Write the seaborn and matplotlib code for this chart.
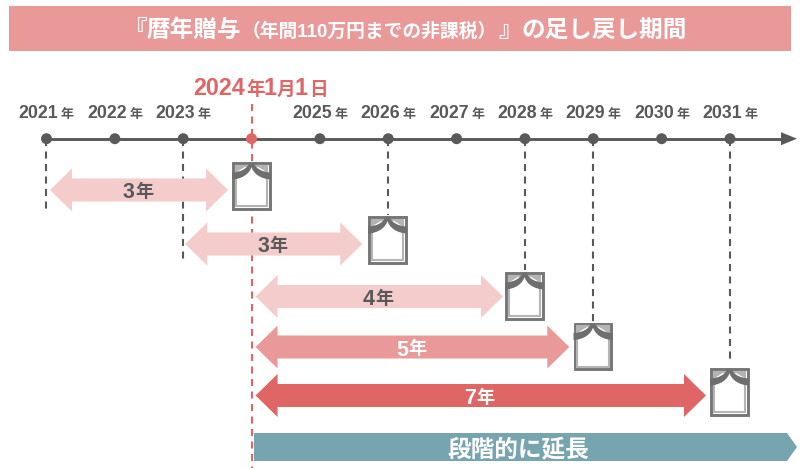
"""Timeline of the gift add-back period for annual gifts (800x468)."""

import matplotlib
matplotlib.use("Agg")
import matplotlib.pyplot as plt
from matplotlib.patches import Polygon, PathPatch, Rectangle
from matplotlib.path import Path
import seaborn as sns

# ── data ───────────────────────────────────────────────────────────────────
years = [2021, 2022, 2023, 2024, 2025, 2026, 2027, 2028, 2029, 2030, 2031]
unlabelled_year = 2024
death_dates = [2024, 2026, 2028, 2029, 2031]
window_starts = [2021, 2023, 2024, 2024, 2024]
window_labels = ["3年", "3年", "4年", "5年", "7年"]
title_pieces = ["『", "暦年贈与", "（年間110万円までの非課税）", "』", "の足し戻し期間"]
date_pieces = ["2024", "年", "1", "月", "1", "日"]
extension_label = "段階的に延長"

# ── style ──────────────────────────────────────────────────────────────────
DARK = "#595959"
RED = "#E06666"
PINK = "#EA9999"
LIGHT = "#F4CCCC"
TEAL = "#76A5AF"
window_colours = [LIGHT, LIGHT, LIGHT, PINK, RED]
window_text = [DARK, DARK, DARK, "white", "white"]

sns.set_theme(style="white")
plt.rcParams["font.family"] = ["Liberation Sans", "Noto Sans CJK JP"]
plt.rcParams["font.weight"] = "bold"

PX_PER_YEAR = 68.35
X0 = 2021 - 46.5 / PX_PER_YEAR


def px(x):
    """Pixel column of the picture -> position on the year axis."""
    return X0 + x / PX_PER_YEAR


fig, ax = plt.subplots(figsize=(8, 4.68), dpi=100)
ax.set_position([0, 0, 1, 1])
ax.set_xlim(px(0), px(800))
ax.set_ylim(468, 0)
ax.axis("off")

AXIS_Y = 138.7

# ── title band ─────────────────────────────────────────────────────────────
ax.add_patch(Rectangle((px(9), 6), 782 / PX_PER_YEAR, 45, color=PINK, lw=0, zorder=1))
title_x = [123.5, 147, 242, 498, 521.5]
title_size = [17, 17, 13.5, 17, 17]
for s, x, size in zip(title_pieces, title_x, title_size):
    ax.text(px(x), 37, s, color="white", fontsize=size, va="baseline", zorder=2)

# ── guide lines ────────────────────────────────────────────────────────────
dash = (0, (3.4, 2.6))
guide_ends = [210, 262, 215, 270, 322, 362]
guide_years = [2021, 2023, 2026, 2028, 2029, 2031]
for year, end in zip(guide_years, guide_ends):
    ax.plot([year, year], [AXIS_Y, end], color=DARK, lw=1.5, ls=dash, zorder=2)
ax.plot([2024, 2024], [104, 468], color=RED, lw=1.5, ls=dash, zorder=2)

# ── timeline ───────────────────────────────────────────────────────────────
sns.lineplot(x=[years[0], px(782)], y=[AXIS_Y, AXIS_Y], color=DARK, lw=2.1,
             estimator=None, sort=False, ax=ax, zorder=3)
ax.add_patch(Polygon([(px(781), AXIS_Y - 6.5), (px(797), AXIS_Y), (px(781), AXIS_Y + 6.5)],
                     color=DARK, lw=0, zorder=3))
dot_colours = [RED if y == unlabelled_year else DARK for y in years]
sns.scatterplot(x=years, y=[AXIS_Y] * len(years), hue=years, palette=dot_colours,
                s=62, linewidth=0, legend=False, ax=ax, zorder=4)

for year in years:
    if year == unlabelled_year:
        continue
    x = 46.5 + (year - 2021) * PX_PER_YEAR
    ax.text(px(x + 12), 118, str(year), color=DARK, fontsize=12.8, ha="right", va="baseline")
    ax.text(px(x + 14.5), 118, "年", color=DARK, fontsize=9.4, ha="left", va="baseline")

date_x = [193, 246, 264, 277, 295, 309]
date_size = [16.8, 13.4, 16.8, 13.4, 16.8, 13.4]
for s, x, size in zip(date_pieces, date_x, date_size):
    ax.text(px(x), 95, s, color=RED, fontsize=size, va="baseline")

# ── window arrows ──────────────────────────────────────────────────────────
row_y = [190, 244, 296.5, 347, 395.5]
left_gap = [3.5, 2, 4, 4, 4]
right_gap = [23.5, 26, 22, 24, 24]
HEAD_LEN = 22
SHAFT = 11.5
HEAD = 21.5


def double_arrow(x0, x1, y, colour):
    """Two-headed block arrow between year positions x0 and x1."""
    h = HEAD_LEN / PX_PER_YEAR
    pts = [(x0, y), (x0 + h, y - HEAD), (x0 + h, y - SHAFT), (x1 - h, y - SHAFT),
           (x1 - h, y - HEAD), (x1, y), (x1 - h, y + HEAD), (x1 - h, y + SHAFT),
           (x0 + h, y + SHAFT), (x0 + h, y + HEAD)]
    ax.add_patch(Polygon(pts, color=colour, lw=0, zorder=5))


for i, (start, end) in enumerate(zip(window_starts, death_dates)):
    x0 = start + left_gap[i] / PX_PER_YEAR
    x1 = end - right_gap[i] / PX_PER_YEAR
    mid = (x0 + x1) / 2
    ax_y = row_y[i] + 0.5
    double_arrow(x0, x1, row_y[i], window_colours[i])
    ax.text(mid - 4.5 / PX_PER_YEAR, ax_y, window_labels[i][0], color=window_text[i], fontsize=15.5,
            ha="right", va="center_baseline", zorder=6)
    ax.text(mid - 4 / PX_PER_YEAR, ax_y, window_labels[i][1], color=window_text[i], fontsize=13,
            ha="left", va="center_baseline", zorder=6)


# ── curtain icons ──────────────────────────────────────────────────────────
def curtain_icon(left, top):
    """Frame with parted curtains, 39x48 px, given its top-left pixel."""
    def p(x, y):
        return (px(left + x), top + y)

    ax.add_patch(Rectangle(p(1.2, 1.2), 36.6 / PX_PER_YEAR, 45.6, facecolor="white",
                           edgecolor="#767676", lw=2.1, zorder=7))
    ax.add_patch(Rectangle(p(3.8, 3.8), 31.4 / PX_PER_YEAR, 40.4, facecolor="white",
                           edgecolor="#B4B4B4", lw=1.5, zorder=7))
    ax.add_patch(Polygon([p(3, 3), p(16, 3), p(3, 11)], color="#B4B4B4", lw=0, zorder=7))
    ax.add_patch(Polygon([p(36, 3), p(23, 3), p(36, 11)], color="#B4B4B4", lw=0, zorder=7))
    codes = [Path.MOVETO, Path.CURVE4, Path.CURVE4, Path.CURVE4, Path.LINETO,
             Path.CURVE4, Path.CURVE4, Path.CURVE4, Path.CLOSEPOLY]
    left_verts = [p(18, 0), p(15, 7), p(9, 10), p(0, 10.5), p(0, 17.5),
                  p(10, 17), p(18, 12), p(20, 3.5), p(18, 0)]
    right_verts = [p(21, 0), p(24, 7), p(30, 10), p(39, 10.5), p(39, 17.5),
                   p(29, 17), p(21, 12), p(19, 3.5), p(21, 0)]
    for verts in (left_verts, right_verts):
        ax.add_patch(PathPatch(Path(verts, codes), facecolor="#6E6E6E", edgecolor="none", zorder=8))


icon_left = [232, 368, 505, 573.5, 710]
icon_top = [162, 216, 272, 322.5, 368]
for left, top in zip(icon_left, icon_top):
    curtain_icon(left, top)

# ── extension band ─────────────────────────────────────────────────────────
ax.add_patch(Polygon([(px(254), 433), (px(787), 433), (px(797), 447), (px(787), 461), (px(254), 461)],
                     color=TEAL, lw=0, zorder=5))
ax.text(px(518), 447, extension_label, color="white", fontsize=17, ha="center",
        va="center_baseline", zorder=6)

fig.savefig("out.png", dpi=100)
